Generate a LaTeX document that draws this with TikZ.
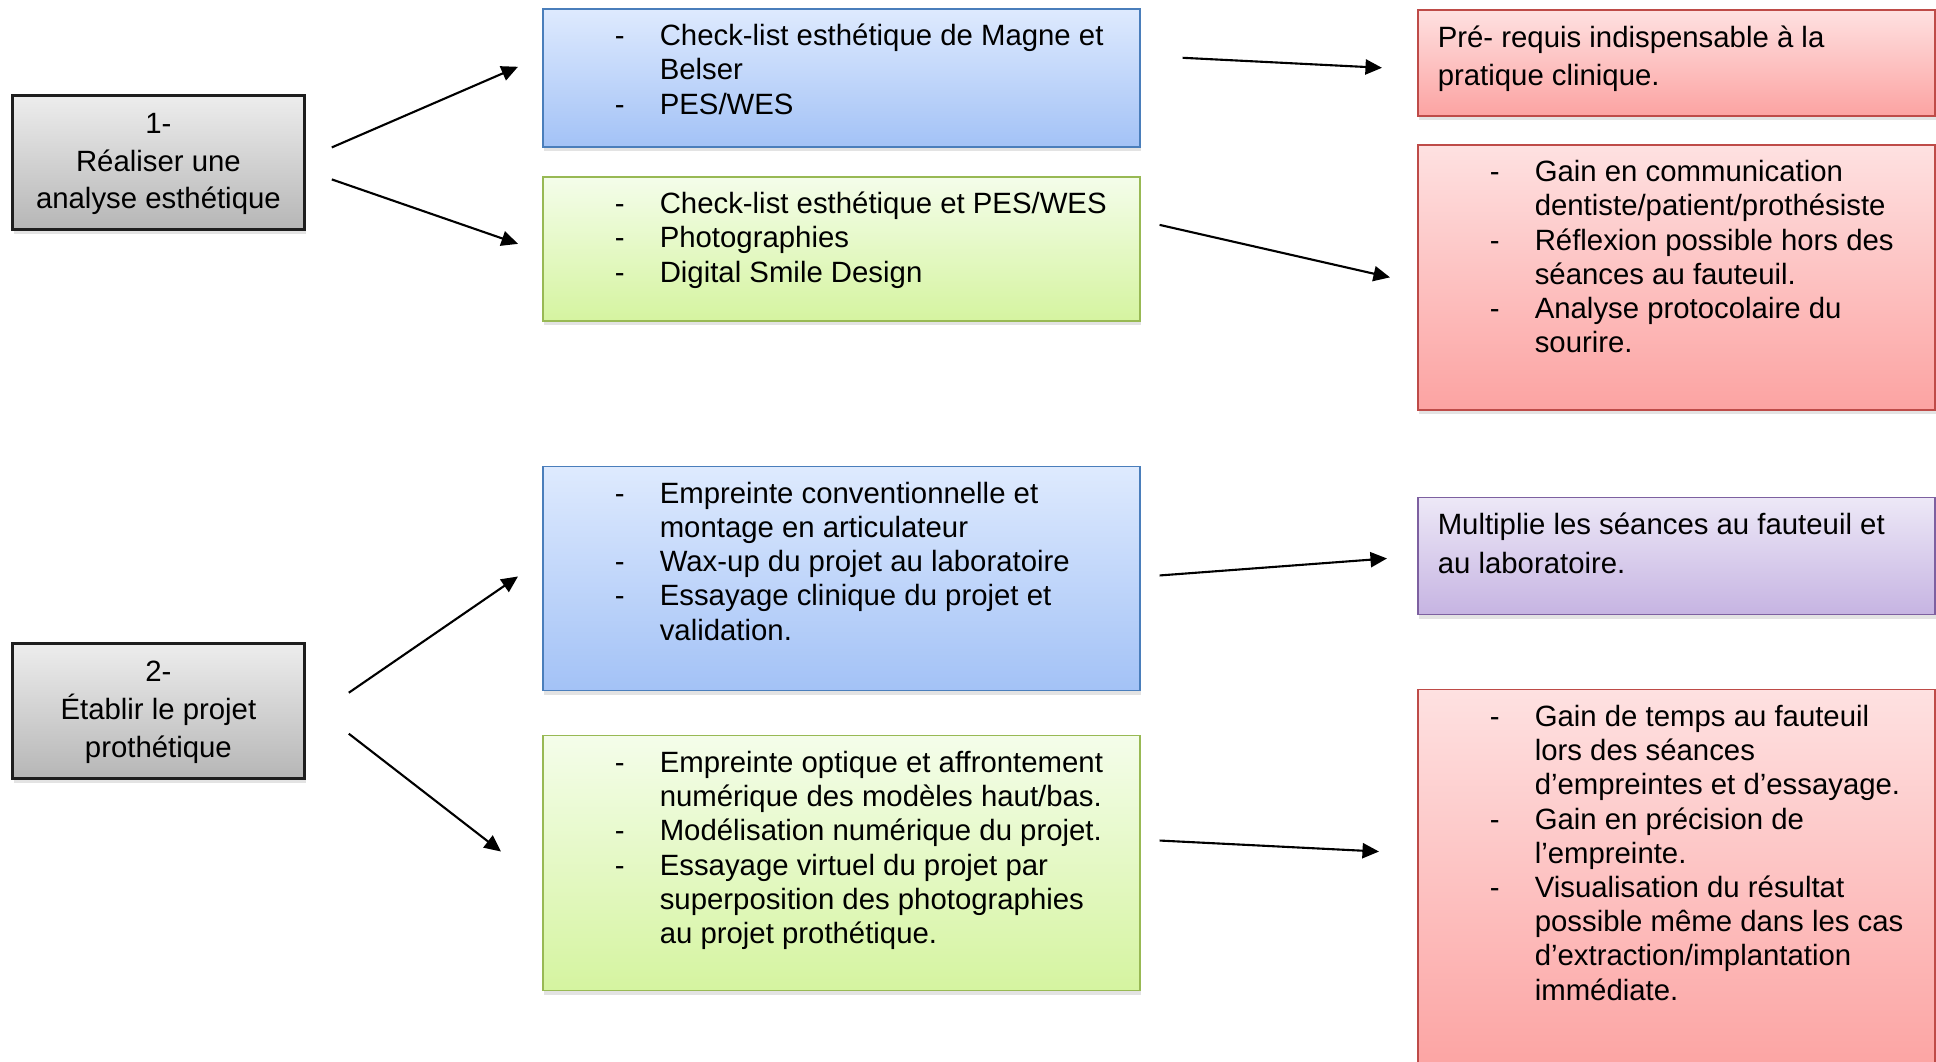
\documentclass[tikz,border=0pt]{standalone}
\usepackage{fontspec}
\setmainfont{Liberation Sans}
\usepackage{xcolor}
\usetikzlibrary{positioning, arrows.meta, shadows}

\definecolor{grishaut}{HTML}{EDEDED}
\definecolor{grisbas}{HTML}{B6B6B6}
\definecolor{grisbord}{HTML}{1E1E1E}
\definecolor{bleuhaut}{HTML}{DEEAFE}
\definecolor{bleubas}{HTML}{A3C2F6}
\definecolor{bleubord}{HTML}{4A7EBB}
\definecolor{verthaut}{HTML}{F4FDEA}
\definecolor{vertbas}{HTML}{D5F4A0}
\definecolor{vertbord}{HTML}{98B954}
\definecolor{rougehaut}{HTML}{FEE1E1}
\definecolor{rougebas}{HTML}{FCA3A2}
\definecolor{rougebord}{HTML}{BE4B48}
\definecolor{violethaut}{HTML}{EDE8F7}
\definecolor{violetbas}{HTML}{C6B4E2}
\definecolor{violetbord}{HTML}{7D60A0}

% tiret de liste
\newcommand{\tiret}{\llap{\makebox[0.45cm][l]{-}}}
% contenu des cadres : largeur, hauteur, texte
\newcommand{\liste}[3]{\parbox[t][#2][t]{#1}{\lineskiplimit=-20pt\leftskip=1.17cm\rule{0pt}{10.5pt}#3}}
\newcommand{\texte}[3]{\parbox[t][#2][t]{#1}{\lineskiplimit=-20pt\leftskip=0.2cm\rule{0pt}{10.6pt}#3}}
\newcommand{\titre}[3]{\parbox[t][#2][t]{#1}{\lineskiplimit=-20pt\centering\rule{0pt}{10.8pt}#3}}

\begin{document}
\begin{tikzpicture}[
			node distance=0.3cm,
			boite/.style={draw, inner sep=0pt, line width=0.45pt, drop shadow={shadow xshift=0.4pt, shadow yshift=-1.3pt, opacity=0.22}},
			etape/.style={boite, draw=grisbord, line width=0.8pt, top color=grishaut, bottom color=grisbas, font={\fontsize{8.35}{10.75}\selectfont}},
			bleu/.style={boite, draw=bleubord, top color=bleuhaut, bottom color=bleubas, font={\fontsize{8.35}{9.73}\selectfont}},
			vert/.style={boite, draw=vertbord, top color=verthaut, bottom color=vertbas, font={\fontsize{8.35}{9.73}\selectfont}},
			rouge/.style={boite, draw=rougebord, top color=rougehaut, bottom color=rougebas, font={\fontsize{8.35}{9.73}\selectfont}},
			violet/.style={boite, draw=violetbord, top color=violethaut, bottom color=violetbas, font={\fontsize{8.35}{10.9}\selectfont}},
			fleche/.style={-{Triangle[length=4.7pt,width=4.3pt]}, line width=0.6pt}
			]
			\useasboundingbox (0,0) rectangle (19.36,-10.62);
			
			% Etapes
			\node[etape, anchor=north west] (gris1) at (0.11,-0.94) {\titre{2.92cm}{1.34cm}{1-\\ Réaliser une\\ analyse esthétique}};
			\node[etape, below=4.115cm of gris1] (gris2) {\titre{2.92cm}{1.35cm}{2-\\ Établir le projet\\ prothétique}};
			
			% Moyens
			\node[bleu, anchor=north west] (bleu1) at (5.42,-0.08) {\liste{5.97cm}{1.38cm}{\tiret Check-list esthétique de Magne et\\ Belser\\ \tiret PES/WES}};
			\node[vert, below=0.285cm of bleu1] (vert1) {\liste{5.97cm}{1.44cm}{\tiret Check-list esthétique et PES/WES\\ \tiret Photographies\\ \tiret Digital Smile Design}};
			\node[bleu, below=1.44cm of vert1] (bleu2) {\liste{5.97cm}{2.24cm}{\tiret Empreinte conventionnelle et\\ montage en articulateur\\ \tiret Wax-up du projet au laboratoire\\ \tiret Essayage clinique du projet et\\ validation.}};
			\node[vert, below=0.435cm of bleu2] (vert2) {\liste{5.97cm}{2.55cm}{\tiret Empreinte optique et affrontement\\ numérique des modèles haut/bas.\\ \tiret Modélisation numérique du projet.\\ \tiret Essayage virtuel du projet par\\ superposition des photographies\\ au projet prothétique.}};
			
			% Apports
			\node[rouge, anchor=north west, font={\fontsize{8.35}{10.9}\selectfont}] (rouge1) at (14.17,-0.09) {\texte{5.17cm}{1.06cm}{Pré- requis indispensable à la\\ pratique clinique.}};
			\node[rouge, below=0.275cm of rouge1] (rouge2) {\liste{5.17cm}{2.65cm}{\tiret Gain en communication\\ dentiste/patient/prothésiste\\ \tiret Réflexion possible hors des\\ séances au fauteuil.\\ \tiret Analyse protocolaire du\\ sourire.}};
			\node[violet, below=0.86cm of rouge2] (violet1) {\texte{5.17cm}{1.17cm}{Multiplie les séances au fauteuil et\\ au laboratoire.}};
			\node[rouge, below=0.735cm of violet1] (rouge3) {\liste{5.17cm}{3.85cm}{\tiret Gain de temps au fauteuil\\ lors des séances\\ d’empreintes et d’essayage.\\ \tiret Gain en précision de\\ l’empreinte.\\ \tiret Visualisation du résultat\\ possible même dans les cas\\ d’extraction/implantation\\ immédiate.}};
			
			% Fleches
			\draw[fleche] ([xshift=0.26cm, yshift=0.15cm]gris1.east) -- ([xshift=-0.24cm, yshift=0.11cm]bleu1.west);
			\draw[fleche] ([xshift=0.26cm, yshift=-0.17cm]gris1.east) -- ([xshift=-0.24cm, yshift=0.05cm]vert1.west);
			\draw[fleche] ([xshift=0.43cm, yshift=0.185cm]gris2.east) -- ([xshift=-0.24cm, yshift=0.02cm]bleu2.west);
			\draw[fleche] ([xshift=0.43cm, yshift=-0.225cm]gris2.east) -- ([xshift=-0.41cm, yshift=0.115cm]vert2.west);
			
			\draw[fleche] ([xshift=0.42cm, yshift=0.20cm]bleu1.east) -- ([xshift=-0.35cm, yshift=-0.05cm]rouge1.west);
			\draw[fleche] ([xshift=0.19cm, yshift=0.24cm]vert1.east) -- ([xshift=-0.27cm, yshift=0cm]rouge2.west);
			\draw[fleche] ([xshift=0.19cm, yshift=0.03cm]bleu2.east) -- ([xshift=-0.30cm, yshift=-0.025cm]violet1.west);
			\draw[fleche] ([xshift=0.19cm, yshift=0.225cm]vert2.east) -- ([xshift=-0.38cm, yshift=0.305cm]rouge3.west);
			
		\end{tikzpicture}
\end{document}
